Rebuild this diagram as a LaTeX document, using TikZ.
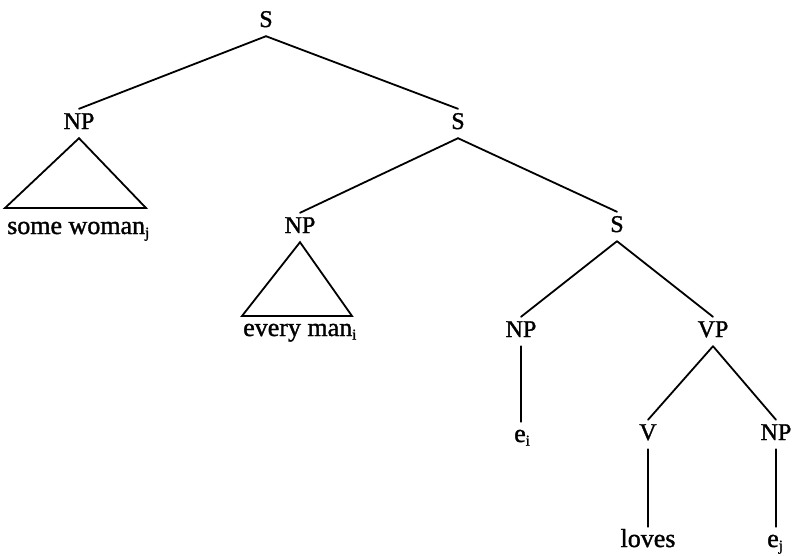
\documentclass[tikz,border=0pt]{standalone}
\usepackage{fontspec}
\setmainfont{Liberation Serif}[FakeBold=1.3]
\newcommand{\lowsub}[1]{\raisebox{-0.3ex}{\fontsize{15}{17}\selectfont #1}}
\begin{document}
\begin{tikzpicture}[x=1pt,y=-1pt]
\tikzset{
  cat/.style={font=\fontsize{24}{28}\selectfont, text height=17pt, text depth=6pt,
              inner ysep=3pt, inner xsep=1pt, anchor=base},
  leaf/.style={font=\fontsize{26}{30}\selectfont, text height=17pt, text depth=6pt,
               inner ysep=3pt, inner xsep=0pt},
  branch/.style={line width=1.8pt, line cap=round, line join=miter}
}
\useasboundingbox (0,0) rectangle (794,555);

% category labels
\node[cat] (s0)  at (266,27)  {S};
\node[cat] (np1) at (79,129)  {NP};
\node[cat] (s1)  at (458,129) {S};
\node[cat] (np2) at (300,233) {NP};
\node[cat] (s2)  at (617,232) {S};
\node[cat] (np3) at (521,337) {NP};
\node[cat] (vp)  at (713,337) {VP};
\node[cat] (v)   at (648,440) {V};
\node[cat] (np4) at (776,440) {NP};

% terminal strings
\node[leaf, anchor=base west] (w1) at (7,234)   {some woman\lowsub{j}};
\node[leaf, anchor=base west] (w2) at (243,336) {every man\lowsub{i}};
\node[leaf, anchor=base west] (ei) at (514,442) {e\lowsub{i}};
\node[leaf, anchor=base]      (lv) at (648,547) {loves};
\node[leaf, anchor=base west] (ej) at (767,547) {e\lowsub{j}};

% corners of the collapsed-constituent triangles
\coordinate (t1l) at (5,208);
\coordinate (t1r) at (146,208);
\coordinate (t2l) at (242,316);
\coordinate (t2r) at (352,316);

% branches
\draw[branch] (s0.south) -- (np1.north);
\draw[branch] (s0.south) -- (s1.north);
\draw[branch] (s1.south) -- (np2.north);
\draw[branch] (s1.south) -- (s2.north);
\draw[branch] (s2.south) -- (np3.north);
\draw[branch] (s2.south) -- (vp.north);
\draw[branch] (vp.south) -- (v.north);
\draw[branch] (vp.south) -- (np4.north);
\draw[branch] (np3.south) -- (np3.south |- ei.north);
\draw[branch] (v.south) -- (lv.north);
\draw[branch] (np4.south) -- (np4.south |- ej.north);

% triangles
\draw[branch] (np1.south) -- (t1l) -- (t1r) -- cycle;
\draw[branch] (np2.south) -- (t2l) -- (t2r) -- cycle;
\end{tikzpicture}
\end{document}
